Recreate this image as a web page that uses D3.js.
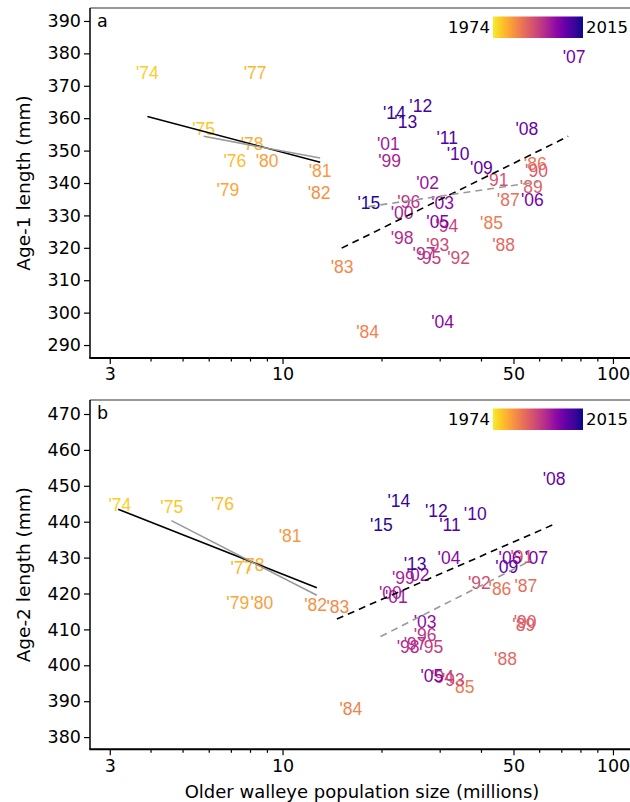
<!DOCTYPE html>
<html><head><meta charset="utf-8">
<script src="https://cdn.jsdelivr.net/npm/d3@7"></script>
<style>body{margin:0;background:#fff}svg{display:block}</style>
</head><body>
<svg id="c" width="630" height="802"></svg>
<script>
const years = d3.range(1974, 2016);
// Panel a: older walleye population (millions) vs age-1 length (mm)
const aX = [3.90,5.77,7.17,8.26,8.09,6.83,8.98,13.0,12.9,15.15,18.1,42.9,58.2,48.2,46.7,56.6,58.7,44.6,34.1,29.5,31.4,27.9,24.1,26.8,23.0,21.1,23.0,20.9,27.5,30.5,30.5,29.5,57.0,76.3,54.9,40.0,34.0,31.5,26.2,23.6,21.8,18.25];
const aY = [373.9,356.9,346.8,373.9,352.1,337.9,346.8,343.8,336.9,314.2,294.1,327.9,346.1,335.0,320.9,338.9,343.8,341.0,317.1,320.9,326.8,316.8,334.3,318.1,323.1,346.8,330.9,352.0,340.1,334.0,297.2,328.1,335.0,378.9,356.9,344.8,349.0,353.9,363.8,359.0,361.6,334.0];
// Panel b: age-2 length (mm)
const bX = [3.22,4.62,6.58,7.53,8.15,7.32,8.66,10.54,12.6,14.7,16.1,35.2,45.5,54.5,47.3,53.7,54.2,53.0,39.4,32.9,30.5,28.3,27.0,25.2,24.0,23.2,21.2,22.1,25.7,27.0,31.9,28.3,48.8,58.7,66.4,47.7,38.3,32.1,29.2,25.2,22.5,19.9];
const bY = [444.6,444.2,445.1,427.2,428.1,417.3,417.3,436.1,416.8,416.3,388.0,394.0,421.2,422.2,401.9,411.2,412.1,430.3,423.1,395.9,396.8,405.2,408.4,406.1,405.2,424.4,420.3,419.1,425.1,412.1,430.1,397.1,430.0,430.0,452.1,427.5,442.1,439.1,443.0,428.4,445.8,439.1];
// fitted line segments [x1,y1,x2,y2]
const aFitEarlyAll = [3.9,360.5,13.0,346.4];
const aFitEarlySub = [5.77,354.4,13.0,347.7];
const aFitLateAll  = [15.1,319.9,73.2,354.4];
const aFitLateSub  = [18.2,332.7,59.4,340.4];
const bFitEarlyAll = [3.18,443.5,12.7,421.6];
const bFitEarlySub = [4.61,440.3,12.7,419.5];
const bFitLateAll  = [14.6,412.9,67.2,439.5];
const bFitLateSub  = [19.8,408.0,56.7,429.3];
const xTickLabels = [3,10,50,100];
const xMinorTicks = [4,5,6,7,8,9,20,30,40,60,70,80,90];
const aYTicks = d3.range(290,391,10);
const bYTicks = d3.range(380,471,10);

const svg = d3.select("#c");
const AX = "DejaVu Sans", LB = "Liberation Sans";
const x = d3.scaleLog().domain([2.614,113.4]).range([90,631]);
const yearT = d3.scaleLinear().domain([1974,2015]).range([0,1]);
const col = yr => d3.interpolatePlasma(0.9 - 0.85*yearT(yr));

const defs = svg.append("defs");
const grad = defs.append("linearGradient").attr("id","cb");
d3.range(0,1.0001,0.1).forEach(t=>grad.append("stop").attr("offset",t).attr("stop-color",d3.interpolatePlasma(0.97-0.97*t)));

function panel(top, bottom, ydom, ticks, xs, ys, fits, letter, ytitle, showXTitle){
  const y = d3.scaleLinear().domain(ydom).range([bottom, top]);
  const g = svg.append("g");
  g.append("line").attr("x1",90).attr("x2",631).attr("y1",top).attr("y2",top).attr("stroke","#333").attr("stroke-width",1.2);
  const ya = g.append("g").attr("transform","translate(90,0)").call(d3.axisLeft(y).tickValues(ticks).tickSize(6).tickPadding(3).tickSizeOuter(0));
  ya.select(".domain").remove();
  g.append("line").attr("x1",90).attr("x2",90).attr("y1",top).attr("y2",bottom).attr("stroke","#000").attr("stroke-width",1.5);
  ya.selectAll("text").attr("font-family",AX).attr("font-size",17.5).attr("fill","#000");
  ya.selectAll("line").attr("stroke","#000").attr("stroke-width",1.2);
  const xa = g.append("g").attr("transform",`translate(0,${bottom})`).call(d3.axisBottom(x).tickValues(xTickLabels).tickFormat(d3.format("d")).tickSize(6).tickPadding(4).tickSizeOuter(0));
  xa.select(".domain").remove();
  xa.selectAll("text").attr("font-family",AX).attr("font-size",17.5).attr("fill","#000");
  xa.selectAll("line").attr("stroke","#000").attr("stroke-width",1.2);
  g.selectAll(".mt").data(xMinorTicks).enter().append("line").attr("x1",d=>x(d)).attr("x2",d=>x(d)).attr("y1",bottom).attr("y2",bottom+3.5).attr("stroke","#000").attr("stroke-width",1.2);
  g.append("line").attr("x1",89.3).attr("x2",631).attr("y1",bottom).attr("y2",bottom).attr("stroke","#000").attr("stroke-width",2);
  g.append("text").attr("x",97).attr("y",top+19).attr("font-family",AX).attr("font-size",17.5).text(letter);
  g.append("text").attr("transform",`translate(30,${(top+bottom)/2}) rotate(-90)`).attr("text-anchor","middle")
    .attr("font-family",AX).attr("font-size",18.5).text(ytitle);
  if(showXTitle) g.append("text").attr("x",362).attr("y",798).attr("text-anchor","middle").attr("font-family",AX).attr("font-size",18).text("Older walleye population size (millions)");
  g.selectAll(".lab").data(years).enter().append("text")
    .attr("x",(d,i)=>x(xs[i])).attr("y",(d,i)=>y(ys[i])).attr("dy","0.36em")
    .attr("text-anchor","middle").attr("font-family",LB).attr("font-size",17.5)
    .attr("fill",d=>col(d)).text(d=>"'"+String(d).slice(2));
  const styles = [["#000",null],["#999",null],["#000","7,5"],["#999","7,5"]];
  fits.forEach((f,i)=>{
    g.append("line").attr("x1",x(f[0])).attr("y1",y(f[1])).attr("x2",x(f[2])).attr("y2",y(f[3]))
      .attr("stroke",styles[i][0]).attr("stroke-width",1.6).attr("stroke-dasharray",styles[i][1]);
  });
  const lt = top+8.5;
  g.append("rect").attr("x",493).attr("y",lt).attr("width",90).attr("height",21.5).attr("fill","url(#cb)");
  g.append("text").attr("x",490).attr("y",lt+11).attr("dy","0.36em").attr("text-anchor","end").attr("font-family",AX).attr("font-size",16.5).text("1974");
  g.append("text").attr("x",586).attr("y",lt+11).attr("dy","0.36em").attr("font-family",AX).attr("font-size",16.5).text("2015");
}

panel(8, 358, [286,394], aYTicks, aX, aY, [aFitEarlyAll,aFitEarlySub,aFitLateAll,aFitLateSub], "a", "Age-1 length (mm)", false);
panel(400, 749.3, [376.6,473.9], bYTicks, bX, bY, [bFitEarlyAll,bFitEarlySub,bFitLateAll,bFitLateSub], "b", "Age-2 length (mm)", true);
</script>
</body></html>
